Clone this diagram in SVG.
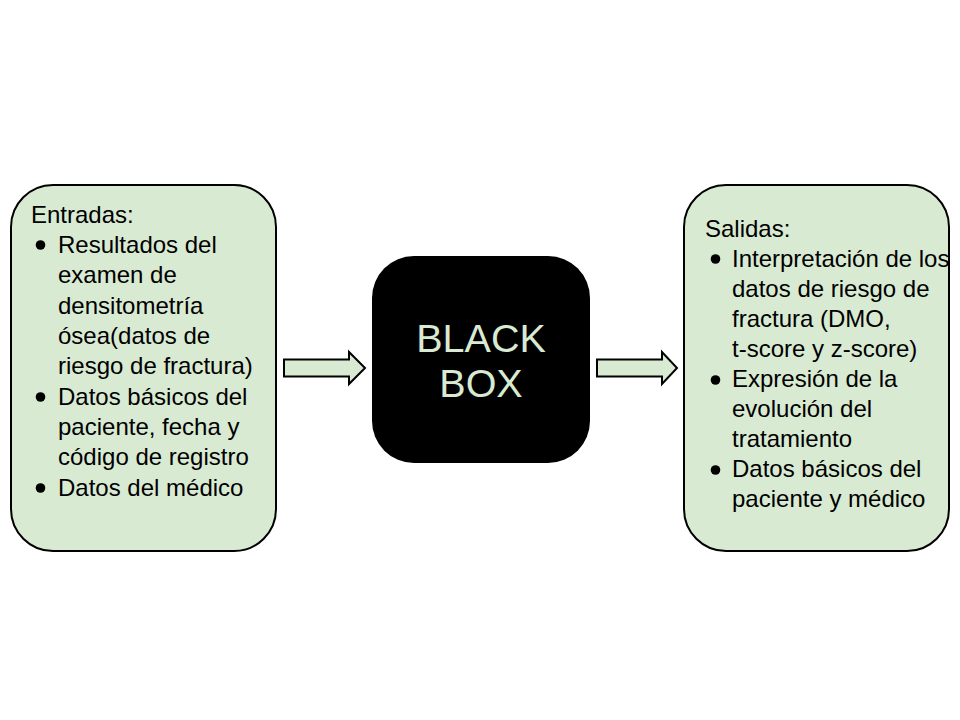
<svg xmlns="http://www.w3.org/2000/svg" width="960" height="720" viewBox="0 0 960 720">
<style>
.box{fill:#d9ead3;stroke:#000;stroke-width:2}
.t{font-family:"Liberation Sans",Arial,sans-serif;font-size:24px;fill:#000}
.bb{font-family:"Liberation Sans",Arial,sans-serif;font-size:39.5px;fill:#d9ead3;text-anchor:middle}
.arrow{fill:#d9ead3;stroke:#000;stroke-width:2}
</style>
<rect width="960" height="720" fill="#fff"/>
<g id="entradas">
<rect class="box" x="11" y="185" width="265" height="366" rx="42" ry="42"/>
<text class="t" x="31" y="223">Entradas:</text>
<g class="t">
<circle cx="40.5" cy="245" r="4.8"/>
<circle cx="40.5" cy="397" r="4.8"/>
<circle cx="40.5" cy="488" r="4.8"/>
</g>
<text class="t" x="58" y="253">Resultados del</text>
<text class="t" x="58" y="283">examen de</text>
<text class="t" x="58" y="313.5">densitometría</text>
<text class="t" x="58" y="344">ósea(datos de</text>
<text class="t" x="58" y="374">riesgo de fractura)</text>
<text class="t" x="58" y="404.5">Datos básicos del</text>
<text class="t" x="58" y="435">paciente, fecha y</text>
<text class="t" x="58" y="465">código de registro</text>
<text class="t" x="58" y="495.5">Datos del médico</text>
</g>
<g id="blackbox">
<rect x="372" y="256" width="218" height="207" rx="42" ry="42" fill="#000"/>
<text class="bb" x="481" y="352">BLACK</text>
<text class="bb" x="481" y="397">BOX</text>
</g>
<g id="salidas">
<rect class="box" x="684" y="185" width="265" height="366" rx="42" ry="42"/>
<text class="t" x="705" y="237">Salidas:</text>
<g class="t">
<circle cx="715.5" cy="259" r="4.8"/>
<circle cx="715.5" cy="380" r="4.8"/>
<circle cx="715.5" cy="470" r="4.8"/>
</g>
<text class="t" x="732" y="267">Interpretación de los</text>
<text class="t" x="732" y="297">datos de riesgo de</text>
<text class="t" x="732" y="327">fractura (DMO,</text>
<text class="t" x="732" y="357">t-score y z-score)</text>
<text class="t" x="732" y="387">Expresión de la</text>
<text class="t" x="732" y="417">evolución del</text>
<text class="t" x="732" y="447">tratamiento</text>
<text class="t" x="732" y="477">Datos básicos del</text>
<text class="t" x="732" y="507">paciente y médico</text>
</g>
<g id="connectors">
<path class="arrow" d="M284,359.5 H349 V352 L365,368 L349,384 V376.5 H284 Z"/>
<path class="arrow" d="M597,359.5 H662 V352 L677,368 L662,384 V376.5 H597 Z"/>
</g>
</svg>
